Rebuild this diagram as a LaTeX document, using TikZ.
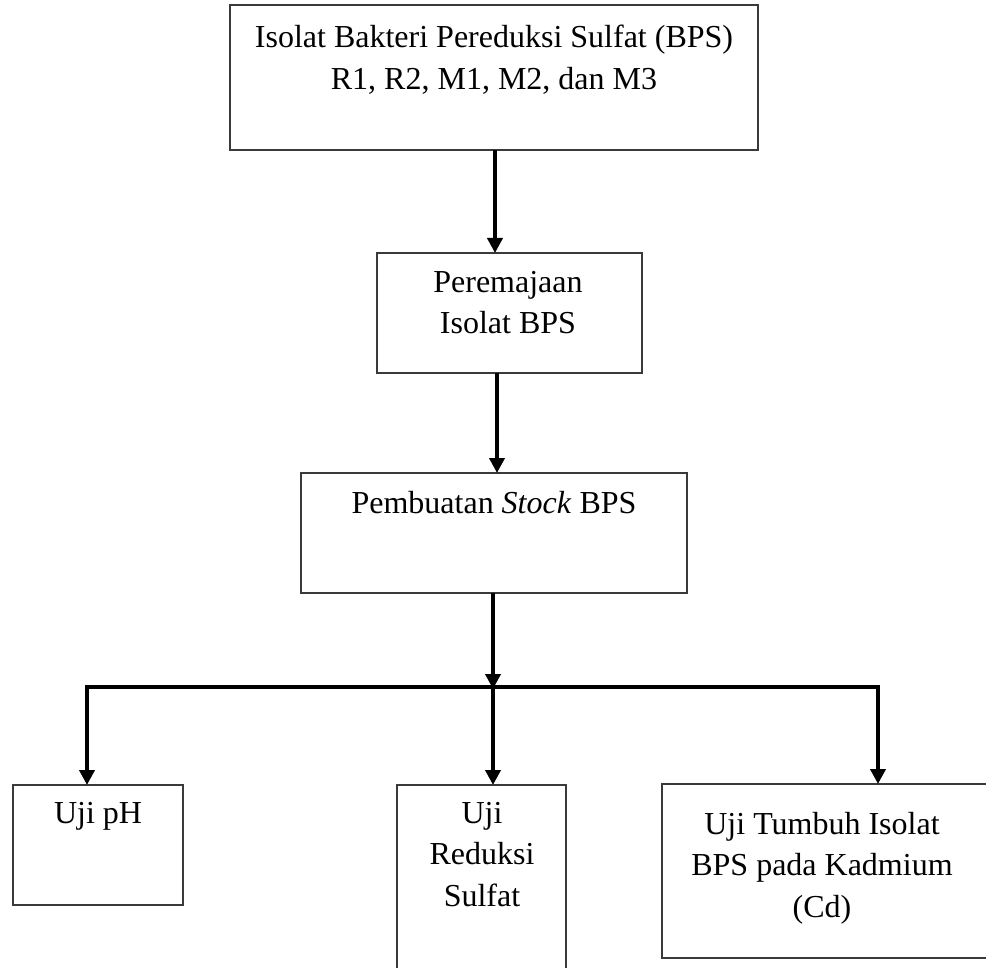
\documentclass[tikz,border=0pt]{standalone}
\usepackage{fontspec}
\setmainfont{Liberation Serif}
\usetikzlibrary{arrows.meta}
\definecolor{boxline}{HTML}{3A3A3A}
\begin{document}
\begin{tikzpicture}[x=1pt,y=-1pt,
  stepbox/.style={draw=boxline, line width=1.5pt, inner sep=0pt, outer sep=0pt},
  lbl/.style={inner sep=0pt, outer sep=0pt, align=center, anchor=north,
    font=\fontsize{32}{41.5}\selectfont},
  flow/.style={line width=4pt, -{Triangle[width=15pt,length=15pt]}},
  bar/.style={line width=4pt}]
\useasboundingbox (0,0) rectangle (986,968);
\clip (0,0) rectangle (986,968);

% boxes
\node[stepbox, minimum width=528pt, minimum height=145pt] (b1) at (494,77.5) {};
\node[stepbox, minimum width=265pt, minimum height=120pt] (b2) at (509.5,313) {};
\node[stepbox, minimum width=386pt, minimum height=120pt] (b3) at (494,533) {};
\node[stepbox, minimum width=170pt, minimum height=120pt] (b4) at (98,845) {};
\node[stepbox, minimum width=169pt, minimum height=200pt] (b5) at (481.5,885) {};
\node[stepbox, minimum width=330pt, minimum height=174pt] (b6) at (827,871) {};

% labels
\node[lbl] (t1) at (494,25) {Isolat Bakteri Pereduksi Sulfat (BPS)\\R1, R2, M1, M2, dan M3};
\node[lbl] (t2) at (508,271) {Peremajaan\\Isolat BPS};
\node[lbl] (t3) at (494,491) {Pembuatan \textit{Stock} BPS};
\node[lbl] (t4) at (98,802) {Uji pH};
\node[lbl] (t5) at (482,802) {Uji\\Reduksi\\Sulfat};
\node[lbl] (t6) at (822,812) {Uji Tumbuh Isolat\\BPS pada Kadmium\\(Cd)};

% connectors
\coordinate (j) at (493,687);
\coordinate (jl) at (87,687);
\coordinate (jr) at (878,687);
\draw[flow] ([xshift=1pt]b1.south) -- ([xshift=1pt]b1.south |- b2.north);
\draw[flow] ([xshift=3pt]b3.north |- b2.south) -- ([xshift=3pt]b3.north);
\draw[flow] ([xshift=-1pt]b3.south) -- ([yshift=-2pt]j);
\draw[bar, line cap=rect] (jl) -- (jr);
\draw[flow] (jl) -- (jl |- b4.north);
\draw[flow] (j) -- (j |- b5.north);
\draw[flow] (jr) -- (jr |- b6.north);
\end{tikzpicture}
\end{document}
